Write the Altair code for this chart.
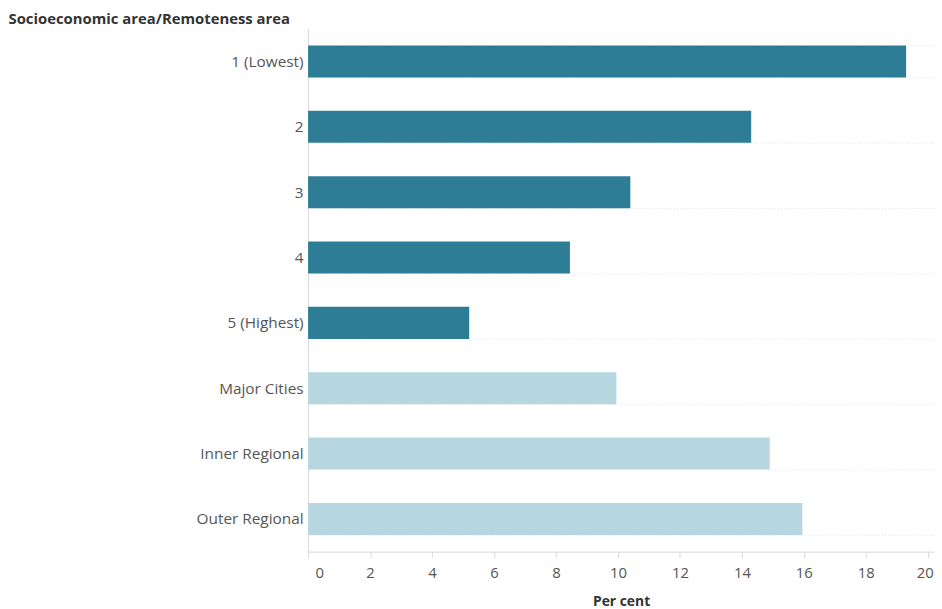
import altair as alt
import pandas as pd

categories = ["1 (Lowest)", "2", "3", "4", "5 (Highest)", "Major Cities", "Inner Regional", "Outer Regional"]
values = [19.3, 14.3, 10.4, 8.45, 5.2, 9.95, 14.9, 15.95]
groups = ["Socioeconomic", "Socioeconomic", "Socioeconomic", "Socioeconomic", "Socioeconomic",
          "Remoteness", "Remoteness", "Remoteness"]
x_ticks = [0, 2, 4, 6, 8, 10, 12, 14, 16, 18, 20]

df = pd.DataFrame({"category": categories, "value": values, "group": groups})

FONT = "Open Sans"

chart = alt.Chart(df).mark_bar().encode(
    y=alt.Y(
        "category:N",
        sort=categories,
        scale=alt.Scale(paddingInner=0.51, paddingOuter=0.255),
        axis=alt.Axis(
            title="Socioeconomic area/Remoteness area",
            titleAngle=0,
            titleAlign="left",
            titleBaseline="middle",
            titleX=-303,
            titleY=-10,
            titleFont=FONT,
            titleFontSize=15,
            titleFontWeight="bold",
            titleColor="#333333",
            labelFont=FONT,
            labelFontSize=15.5,
            labelColor="#555555",
            labelPadding=5,
            ticks=False,
            domain=True,
            domainColor="#d9d9d9",
            grid=True,
            tickBand="extent",
            gridColor="#e3e3e3",
            gridDash=[1, 2],
            gridWidth=1,
        ),
    ),
    x=alt.X(
        "value:Q",
        scale=alt.Scale(domain=[0, 20.2], nice=False),
        axis=alt.Axis(
            title="Per cent",
            values=x_ticks,
            format="d",
            grid=False,
            titleFont=FONT,
            titleFontSize=14,
            titleFontWeight="bold",
            titleColor="#333333",
            titlePadding=14,
            labelFont=FONT,
            labelFontSize=15,
            labelColor="#555555",
            labelPadding=8,
            labelOffset={
                "condition": [
                    {"test": "datum.value === 0", "value": 7},
                    {"test": "datum.value === 20", "value": -3},
                ],
                "value": 0,
            },
            tickColor="#d9d9d9",
            tickSize=6,
            domainColor="#d9d9d9",
        ),
    ),
    color=alt.Color(
        "group:N",
        scale=alt.Scale(domain=["Socioeconomic", "Remoteness"], range=["#2e7d96", "#b7d7e0"]),
        legend=None,
    ),
).properties(
    width=632,
    height=528,
    padding={"left": 0, "top": 1, "right": 0, "bottom": 0},
).configure_view(stroke=None)

chart.save("out.html", embed_options={"renderer": "svg", "actions": False})
